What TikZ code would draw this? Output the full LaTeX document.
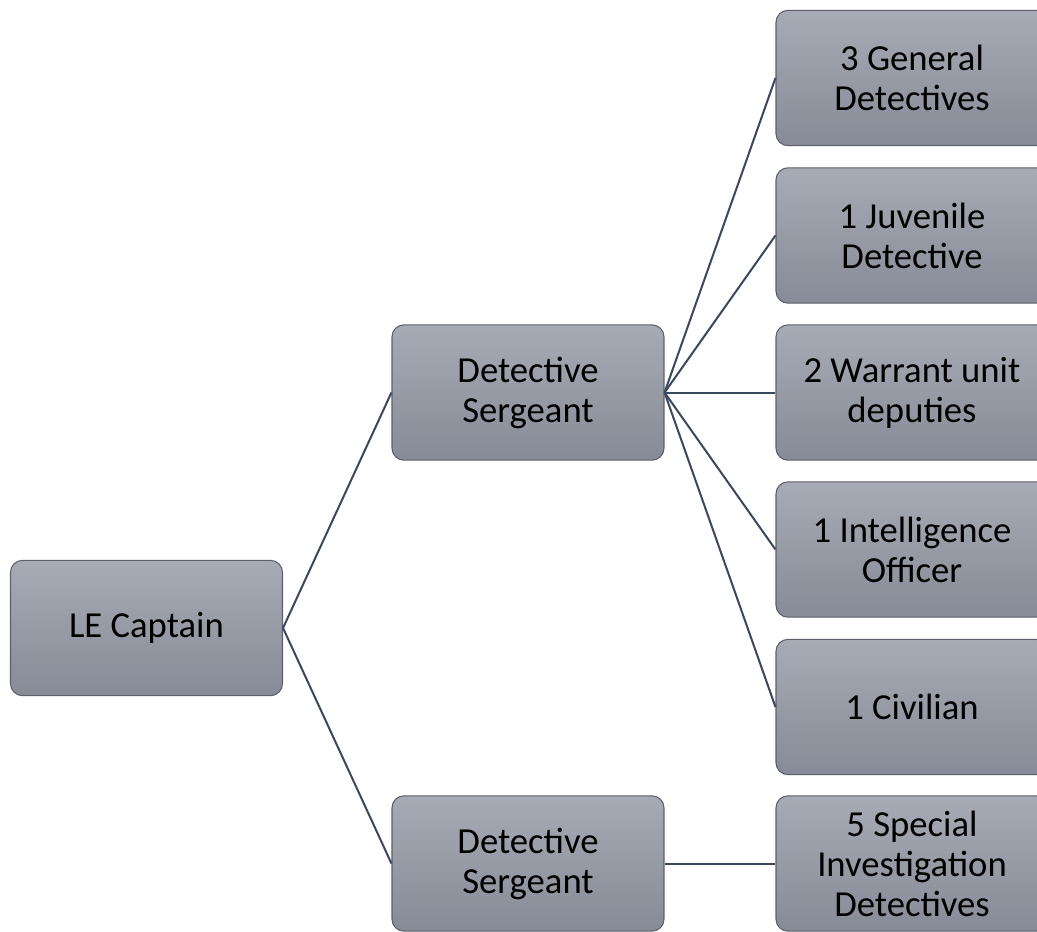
\documentclass[tikz,border=0pt]{standalone}
\usepackage{fontspec}
\setmainfont{Carlito}
\definecolor{boxtop}{RGB}{167,171,181}
\definecolor{boxbot}{RGB}{134,139,151}
\definecolor{boxline}{RGB}{92,96,106}
\definecolor{conn}{RGB}{58,72,94}
\tikzset{
  orgbox/.style={draw=boxline, line width=0.8pt, rounded corners=9pt,
    top color=boxtop, bottom color=boxbot,
    minimum width=204pt, minimum height=101.5pt, inner sep=2pt,
    align=center, font=\fontsize{27.5}{30}\selectfont, text=black},
  link/.style={draw=conn, line width=1.5pt}
}
\begin{document}
\begin{tikzpicture}[x=0.75pt,y=-0.75pt]
\useasboundingbox (0,0) rectangle (1037,931);
\clip (0,0) rectangle (1037,931);
\fill[white] (0,0) rectangle (1037,931);
\node[orgbox] (cap) at (146.5,628) {LE Captain};
\node[orgbox] (ds1) at (528,392.5) {Detective\\Sergeant};
\node[orgbox] (ds2) at (528,863.5) {Detective\\Sergeant};
\node[orgbox] (r1) at (912,78) {3 General\\Detectives};
\node[orgbox] (r2) at (912,235.5) {1 Juvenile\\Detective};
\node[orgbox] (r3) at (912,392.5) {2 Warrant unit\\deputies};
\node[orgbox] (r4) at (912,549.5) {1 Intelligence\\Officer};
\node[orgbox] (r5) at (912,707) {1 Civilian};
\node[orgbox] (r6) at (912,863.5) {5 Special\\Investigation\\Detectives};
\draw[link] (cap.east) -- (ds1.west);
\draw[link] (cap.east) -- (ds2.west);
\foreach \n in {r1,r2,r3,r4,r5}{\draw[link] (ds1.east) -- (\n.west);}
\draw[link] (ds2.east) -- (r6.west);
\end{tikzpicture}
\end{document}
